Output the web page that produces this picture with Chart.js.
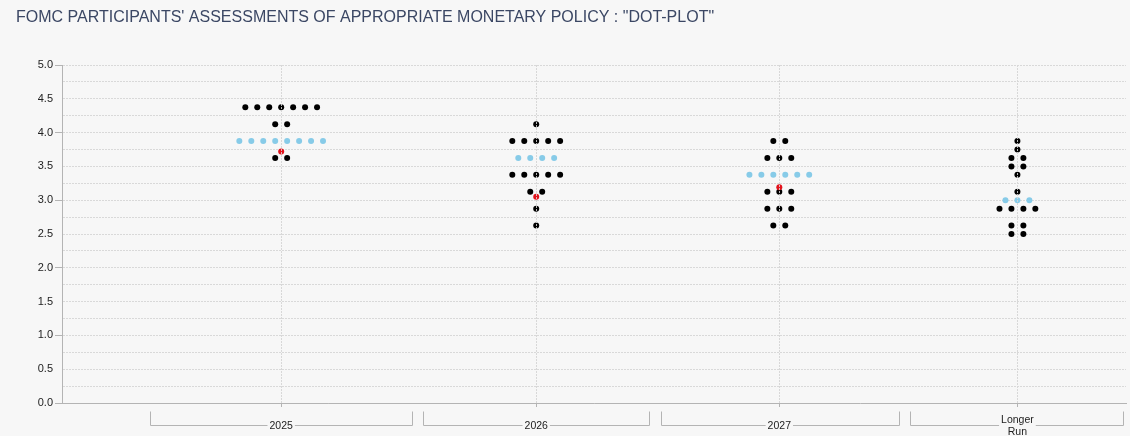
<!DOCTYPE html>
<html>
<head>
<meta charset="utf-8">
<script src="https://cdn.jsdelivr.net/npm/chart.js@4.4.1/dist/chart.umd.min.js"></script>
<style>
  html, body { margin: 0; padding: 0; background: #f7f7f7; }
  #wrap { width: 1130px; height: 436px; }
</style>
</head>
<body>
<div id="wrap"><canvas id="canvas" width="1130" height="436"></canvas></div>
<script>
var titleText = 'FOMC PARTICIPANTS\' ASSESSMENTS OF APPROPRIATE MONETARY POLICY : "DOT-PLOT"';
var categories = [['2025'], ['2026'], ['2027'], ['Longer', 'Run']];

// participants' dots per year : [rate, number of dots]
var dots2025 = [[4.375, 7], [4.125, 2], [3.625, 2]];
var dots2026 = [[4.125, 1], [3.875, 5], [3.375, 5], [3.125, 2], [2.875, 1], [2.625, 1]];
var dots2027 = [[3.875, 2], [3.625, 3], [3.125, 3], [2.875, 3], [2.625, 2]];
var dotsLonger = [[3.875, 1], [3.75, 1], [3.625, 2], [3.5, 2], [3.375, 1], [3.125, 1], [2.875, 4], [2.625, 2], [2.5, 2]];
// light blue row per year : [rate, number of dots]
var blueRows = [[3.875, 8], [3.625, 4], [3.375, 6], [3.0, 3]];
// red marker per year
var redValues = [3.72, 3.05, 3.19, null];

var yMin = 0, yMax = 5, yStep = 0.25;

// x axis layout (axis units)
var catCenters = [220, 476, 720, 959];
var brackets = [[88, 351], [362, 589], [601, 840], [851, 1065]];
var dotStep = 12;
var xMax = 1068;

function spread(rows, c) {
  var pts = [];
  rows.forEach(function (r) {
    for (var i = 0; i < r[1]; i++) {
      pts.push({ x: catCenters[c] + (i - (r[1] - 1) / 2) * dotStep, y: r[0] });
    }
  });
  return pts;
}

var blackPts = [].concat(spread(dots2025, 0), spread(dots2026, 1), spread(dots2027, 2), spread(dotsLonger, 3));
var bluePts = [];
blueRows.forEach(function (r, c) { bluePts = bluePts.concat(spread([r], c)); });
var redPts = [];
redValues.forEach(function (v, c) { if (v !== null) redPts.push({ x: catCenters[c], y: v }); });

var FONT = "'Liberation Sans', Arial, sans-serif";
var GRID = '#d9d9d9';

var decor = {
  id: 'decor',
  afterDatasetsDraw: function (chart) {
    var ctx = chart.ctx, xs = chart.scales.x, a = chart.chartArea;
    ctx.save();
    ctx.strokeStyle = 'rgba(215,215,215,0.85)';
    ctx.lineWidth = 1;
    ctx.setLineDash([2, 1]);
    catCenters.forEach(function (c) {
      var px = Math.round(xs.getPixelForValue(c)) + 0.5;
      ctx.beginPath();
      ctx.moveTo(px, a.top);
      ctx.lineTo(px, a.bottom);
      ctx.stroke();
    });
    ctx.restore();
  },
  afterDraw: function (chart) {
    var ctx = chart.ctx, xs = chart.scales.x, a = chart.chartArea;
    ctx.save();
    // title
    ctx.fillStyle = '#3b4764';
    ctx.font = '16px ' + FONT;
    ctx.textBaseline = 'middle';
    ctx.textAlign = 'left';
    ctx.fillText(titleText, 16, 18);

    // category brackets
    var yTop = a.bottom + 8.5, yLine = a.bottom + 22.5;
    ctx.strokeStyle = '#b4b4b4';
    ctx.lineWidth = 1;
    brackets.forEach(function (b) {
      var x1 = Math.round(xs.getPixelForValue(b[0])) + 0.5;
      var x2 = Math.round(xs.getPixelForValue(b[1])) + 0.5;
      ctx.beginPath();
      ctx.moveTo(x1, yTop);
      ctx.lineTo(x1, yLine);
      ctx.lineTo(x2, yLine);
      ctx.lineTo(x2, yTop);
      ctx.stroke();
    });
    ctx.font = '10.5px ' + FONT;
    ctx.textAlign = 'center';
    categories.forEach(function (lines, i) {
      var cx = xs.getPixelForValue(catCenters[i]);
      var w = 0;
      lines.forEach(function (l) { w = Math.max(w, ctx.measureText(l).width); });
      var h = lines.length * 12;
      var cy = a.bottom + 23;
      ctx.fillStyle = '#f7f7f7';
      ctx.fillRect(cx - w / 2 - 2, cy - h / 2, w + 4, h);
      ctx.fillStyle = '#222';
      lines.forEach(function (l, k) {
        ctx.fillText(l, cx, cy - (lines.length - 1) * 6 + k * 12);
      });
    });
    ctx.restore();
  }
};

var ctx = document.getElementById('canvas');
window.dotPlot = new Chart(ctx, {
  type: 'scatter',
  data: {
    datasets: [
      { label: 'median', data: redPts, backgroundColor: '#e3121b', pointRadius: 3, pointBorderWidth: 0, order: 0 },
      { label: 'participants', data: blackPts, backgroundColor: '#000000', pointRadius: 3, pointBorderWidth: 0, order: 1 },
      { label: 'other', data: bluePts, backgroundColor: '#87cbe8', pointRadius: 3, pointBorderWidth: 0, order: 2 }
    ]
  },
  options: {
    responsive: false,
    animation: false,
    layout: { padding: { top: 65, left: 0, right: 0, bottom: 0 } },
    plugins: {
      legend: { display: false },
      tooltip: { enabled: false },
      title: { display: false }
    },
    scales: {
      x: {
        type: 'linear',
        min: 0,
        max: xMax,
        afterBuildTicks: function (scale) {
          scale.ticks = catCenters.map(function (v) { return { value: v }; });
        },
        afterFit: function (scale) { scale.height = 33; },
        ticks: { display: false },
        grid: {
          color: GRID,
          tickColor: '#b4b4b4',
          tickLength: 4
        },
        border: { color: '#b4b4b4', dash: [2, 1] }
      },
      y: {
        min: yMin,
        max: yMax,
        afterFit: function (scale) { scale.width = 62; },
        ticks: {
          stepSize: yStep,
          padding: 2,
          color: '#222',
          font: { family: FONT, size: 11 },
          autoSkip: false,
          callback: function (v) { return (v * 2) % 1 === 0 ? v.toFixed(1) : ''; }
        },
        grid: {
          color: GRID,
          tickColor: function (c) { return c.tick && c.tick.value % 1 === 0 ? '#b4b4b4' : 'rgba(0,0,0,0)'; },
          tickLength: 7
        },
        border: { color: '#b4b4b4', dash: [2, 1] }
      }
    }
  },
  plugins: [decor]
});
</script>
</body>
</html>
